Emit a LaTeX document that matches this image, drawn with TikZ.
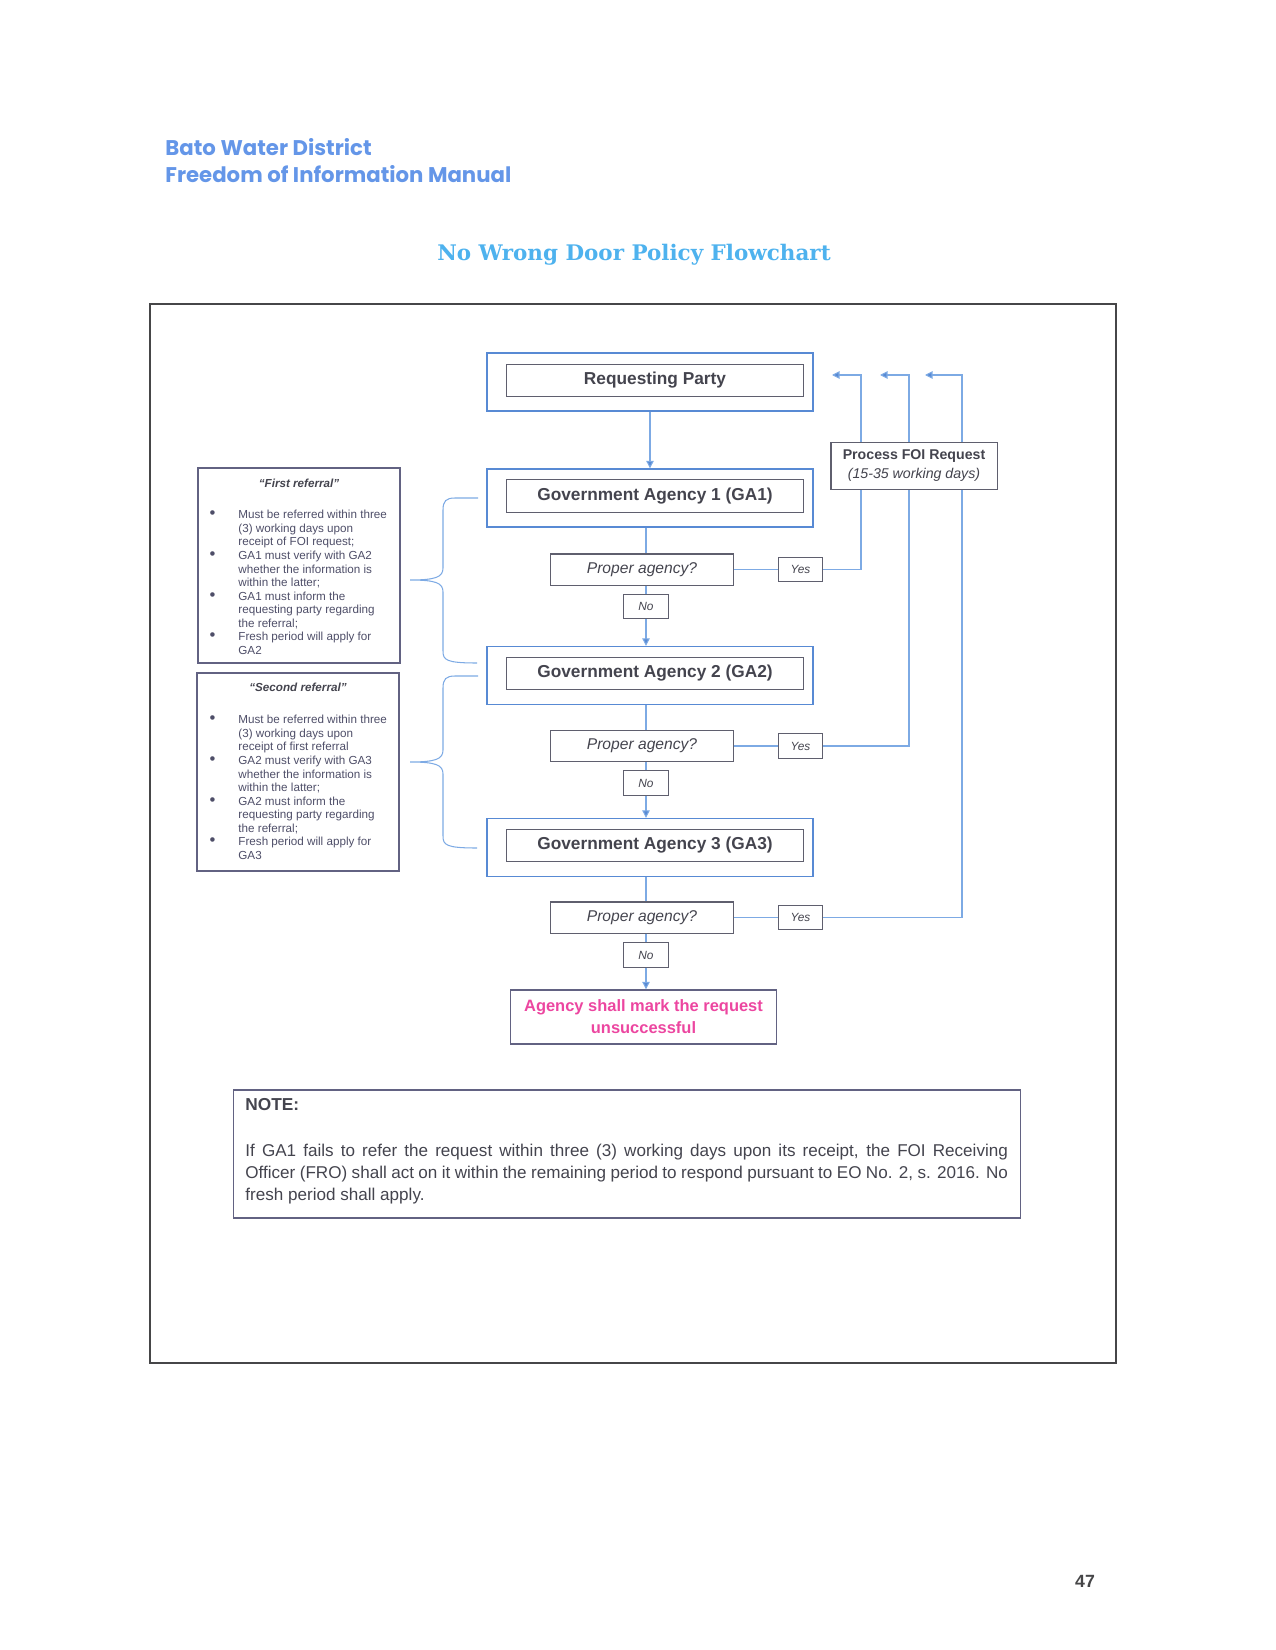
\documentclass[tikz,border=0pt]{standalone}
\usepackage{fontspec}
\setmainfont{Liberation Sans}
\newfontfamily\headfont{Poppins}
\newfontfamily\titlefont{DejaVu Serif}
\usepackage{tikz}
\usetikzlibrary{arrows.meta}
\usepackage{xcolor}
\definecolor{flowblue}{RGB}{88,138,212}
\definecolor{lineblue}{RGB}{125,170,228}
\definecolor{boxgrey}{RGB}{95,95,110}
\definecolor{textgrey}{RGB}{68,68,78}
\definecolor{notegrey}{RGB}{98,98,130}
\definecolor{framegrey}{RGB}{70,70,72}
\definecolor{headblue}{RGB}{100,150,232}
\definecolor{titleblue}{RGB}{78,178,238}
\definecolor{failpink}{RGB}{236,70,160}
\newcommand{\bul}{\llap{{\fontsize{8}{6.5}\selectfont\textbullet}\hspace{11pt}}}
\tikzset{
    agencyframe/.style={
        draw=flowblue,
        line width=0.7pt,
        minimum width=156.5pt,
        minimum height=27.8pt,
        inner sep=0pt
    },
    agency/.style={
        draw=boxgrey,
        line width=0.5pt,
        minimum width=143pt,
        minimum height=15.8pt,
        inner sep=0pt,
        text=textgrey,
        font=\bfseries\fontsize{8.3}{10}\selectfont
    },
    question/.style={
        draw=boxgrey,
        line width=0.5pt,
        minimum width=87.4pt,
        minimum height=14.9pt,
        inner sep=0pt,
        text=textgrey,
        font=\itshape\fontsize{7.5}{9}\selectfont
    },
    answer/.style={
        draw=boxgrey,
        line width=0.5pt,
        minimum width=21.4pt,
        minimum height=11.6pt,
        inner sep=0pt,
        text=textgrey,
        font=\itshape\fontsize{5.7}{7}\selectfont
    },
    flowline/.style={draw=lineblue, line width=0.5pt},
    flowarrow/.style={flowline, -{Triangle[length=3.6pt, width=3.6pt, fill=flowblue]}},
    bracestyle/.style={draw=lineblue, line width=0.5pt},
    refframe/.style={
        draw=notegrey,
        line width=0.6pt,
        minimum width=97pt,
        inner sep=0pt
    },
    reftitle/.style={
        inner sep=0pt,
        text=textgrey,
        font=\bfseries\itshape\fontsize{5.6}{6.5}\selectfont
    },
    reflist/.style={
        anchor=north west,
        align=left,
        inner sep=0pt,
        text=notegrey!80!black,
        font=\fontsize{5.6}{6.5}\selectfont
    }
}

\begin{document}
\begin{tikzpicture}[x=0.48pt, y=-0.48pt]
  \useasboundingbox (0,0) rectangle (1275,1650);
  % page frame
  \draw[framegrey, line width=1.2pt] (150,304) rectangle (1116,1363);

  % header and title
  \node[anchor=base west, inner sep=0pt, text=headblue, font=\headfont\bfseries\fontsize{10.2}{12}\selectfont] (district) at (165,156) {Bato Water District};
  \node[anchor=base west, inner sep=0pt, text=headblue, font=\headfont\bfseries\fontsize{10.2}{12}\selectfont] (manual) at (165,183) {Freedom of Information Manual};
  \node[inner sep=0pt, text=titleblue, font=\titlefont\bfseries\fontsize{10.3}{12}\selectfont] (title) at (634,255) {No Wrong Door Policy Flowchart};

  % requesting party
  \node[agencyframe] (rpframe) at (650,382) {};
  \node[agency] (rp) at (655,380.5) {Requesting Party};

  % the three agencies with their checks
  \foreach \i/\ya/\yq/\yn/\xup/\xtip in {1/498/569.5/606.5/861/832, 2/675.5/746/783/909/880, 3/847.5/917.5/955/962/925} {
    \node[agencyframe] (gaframe\i) at (650,\ya) {};
    \node[agency] (ga\i) at (655,\ya-2) {Government Agency \i{} (GA\i)};
    \node[question] (pa\i) at (642,\yq) {Proper agency?};
    \node[answer] (yes\i) at (800.5,\yq) {Yes};
    \node[answer] (no\i) at (646,\yn) {No};
    \coordinate (up\i) at (\xup,375);
    \coordinate (back\i) at (\xtip,375);
    \draw[flowline] (gaframe\i.south -| no\i.north) -- (no\i.north |- pa\i.north);
    \draw[flowline] (no\i.north |- pa\i.south) -- (no\i.north);
    \draw[flowline] (pa\i.east) -- (yes\i.west);
    \draw[flowarrow] (yes\i.east) -| (up\i) -- (back\i);
  }

  % process box over the return lines
  \node[draw=boxgrey, fill=white, line width=0.5pt, minimum width=79.7pt, minimum height=23pt, inner sep=0pt, align=center, text=textgrey, font=\fontsize{6.8}{9.1}\selectfont] (process) at (914,466) {\textbf{Process FOI Request}\\\textit{(15-35 working days)}};

  % unsuccessful
  \node[draw=notegrey, line width=0.6pt, minimum width=128pt, minimum height=26pt, inner sep=0pt, align=center, text=failpink, font=\bfseries\fontsize{7.9}{10.5}\selectfont] (fail) at (643.5,1017) {Agency shall mark the request\\unsuccessful};

  % down arrows
  \draw[flowarrow] (rpframe.south) -- (gaframe1.north);
  \draw[flowarrow] (no1.south) -- (no1.south |- gaframe2.north);
  \draw[flowarrow] (no2.south) -- (no2.south |- gaframe3.north);
  \draw[flowarrow] (no3.south) -- (no3.south |- fail.north);

  % referral notes
  \node[refframe, minimum height=93.6pt] (ref1) at (299,565.5) {};
  \node[reftitle] (ref1title) at (299,483) {``First referral''};
  \node[reflist] (ref1list) at (238,510) {\bul Must be referred within three\\(3) working days upon\\receipt of FOI request;\\\bul GA1 must verify with GA2\\whether the information is\\within the latter;\\\bul GA1 must inform the\\requesting party regarding\\the referral;\\\bul Fresh period will apply for\\GA2};
  \node[refframe, minimum height=95pt] (ref2) at (298,772) {};
  \node[reftitle] (ref2title) at (298,687) {``Second referral''};
  \node[reflist] (ref2list) at (238,715) {\bul Must be referred within three\\(3) working days upon\\receipt of first referral\\\bul GA2 must verify with GA3\\whether the information is\\within the latter;\\\bul GA2 must inform the\\requesting party regarding\\the referral;\\\bul Fresh period will apply for\\GA3};

  % braces
  \foreach \ytop/\ymid/\ybot in {498/580/663, 676/762/848} {
    \draw[bracestyle] (478,\ytop) -- (455,\ytop) .. controls (446,\ytop) and (443,\ytop+3) .. (443,\ytop+12) -- (443,\ymid-12) .. controls (443,\ymid-3) and (436,\ymid) .. (410,\ymid) .. controls (436,\ymid) and (443,\ymid+3) .. (443,\ymid+12) -- (443,\ybot-12) .. controls (443,\ybot-3) and (446,\ybot) .. (477,\ybot);
  }

  % note
  \node[draw=notegrey, line width=0.6pt, minimum width=377.5pt, minimum height=61.4pt, inner sep=0pt] (note) at (627,1154) {};
  \node[anchor=base west, inner sep=0pt, text=textgrey, font=\bfseries\fontsize{8.3}{10}\selectfont] (notehead) at (245,1110) {NOTE:};
  \node[anchor=north west, inner sep=0pt, text width=366pt, align=justify, text=textgrey, font=\fontsize{8.2}{10.4}\selectfont] (notebody) at (245,1144) {If GA1 fails to refer the request within three (3) working days upon its receipt, the FOI Receiving\linebreak Officer (FRO) shall act on it within the remaining period to respond pursuant to EO No. 2, s. 2016. No\linebreak fresh period shall apply.};

  % page number
  \node[anchor=base, inner sep=0pt, text=framegrey, font=\bfseries\fontsize{8.5}{10}\selectfont] (pagenum) at (1085,1587) {47};
\end{tikzpicture}
\end{document}
